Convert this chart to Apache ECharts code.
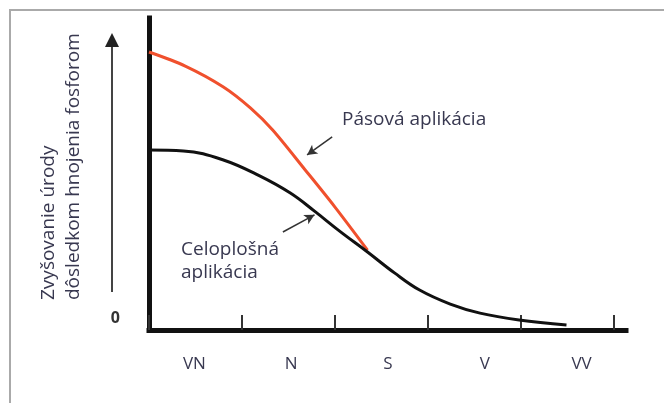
<!DOCTYPE html>
<html>
<head>
<meta charset="utf-8">
<script src="https://cdn.jsdelivr.net/npm/echarts@6/dist/echarts.min.js"></script>
<style>
  html, body { margin: 0; padding: 0; background: #fff; }
  #chart { width: 664px; height: 403px; }
</style>
</head>
<body>
<div id="chart"></div>
<script>
// kategórie na osi x
var categories = ['VN', 'N', 'S', 'V', 'VV']
var tickValues = [0, 1, 2, 3, 4, 5]

// celoplošná aplikácia (čierna krivka)
var celoplosnaX = [0, 0.37, 0.80, 1.19, 1.52, 1.78, 2.05, 2.35, 2.64, 2.91, 3.24, 3.56, 3.98, 4.49]
var celoplosnaY = [57.7, 57.4, 54.5, 49.4, 43.9, 38.1, 31.7, 25.0, 18.3, 12.8, 8.3, 5.4, 3.2, 1.6]

// pásová aplikácia (červená krivka)
var pasovaX = [0, 0.39, 0.80, 1.09, 1.33, 1.68, 2.0, 2.35]
var pasovaY = [89.1, 84.6, 77.9, 71.2, 64.1, 51.3, 39.4, 25.6]

// šípky k popisom (v súradniciach grafu)
var pasovaArrow = [[1.97, 61.9], [1.70, 56.1]]
var celoplosnaArrow = [[1.44, 31.4], [1.78, 36.9]]

var font = 'Open Sans'
var textColor = '#383850'

function pairs(xs, ys) {
  return xs.map(function (x, i) { return [x, ys[i]] })
}

function arrowLine(pts) {
  return {
    symbol: ['none', 'arrow'],
    symbolSize: [8, 10],
    silent: true,
    label: { show: false },
    lineStyle: { color: '#333', width: 1.5, type: 'solid' },
    data: [[{ coord: pts[0] }, { coord: pts[1] }]]
  }
}

var chart = echarts.init(document.getElementById('chart'))

var option = {
  animation: false,
  backgroundColor: '#fff',
  grid: [
    { left: 149, right: 38, top: 18, bottom: 73 },
    { left: 146, right: 34, top: 18, bottom: 73 }
  ],
  xAxis: [
    {
      type: 'value',
      gridIndex: 0,
      min: 0,
      max: 5.13,
      interval: 1,
      axisLine: { show: true, lineStyle: { color: '#111', width: 5, cap: 'square' } },
      axisTick: {
        show: true,
        inside: true,
        length: 15,
        customValues: tickValues,
        lineStyle: { color: '#333', width: 2 }
      },
      axisLabel: { show: false },
      splitLine: { show: false }
    },
    {
      type: 'category',
      gridIndex: 1,
      data: categories,
      axisLine: { show: false },
      axisTick: { show: false },
      axisLabel: { margin: 26, fontSize: 17, fontFamily: font, color: textColor }
    }
  ],
  yAxis: [
    {
      type: 'value',
      gridIndex: 0,
      min: 0,
      max: 100,
      interval: 100,
      axisLine: { show: true, lineStyle: { color: '#111', width: 5, cap: 'square' } },
      axisTick: { show: false },
      splitLine: { show: false },
      axisLabel: {
        formatter: function (v) { return v === 0 ? '0' : '' },
        margin: 29,
        fontSize: 16,
        fontWeight: 'bold',
        fontFamily: font,
        color: '#333',
        verticalAlign: 'bottom',
        padding: [0, 0, 4, 0]
      }
    },
    { type: 'value', gridIndex: 1, show: false }
  ],
  series: [
    {
      name: 'Pásová aplikácia',
      type: 'line',
      xAxisIndex: 0,
      yAxisIndex: 0,
      data: pairs(pasovaX, pasovaY),
      smooth: 0.3,
      showSymbol: false,
      lineStyle: { color: '#f0502d', width: 3 },
      markLine: arrowLine(pasovaArrow)
    },
    {
      name: 'Celoplošná aplikácia',
      type: 'line',
      xAxisIndex: 0,
      yAxisIndex: 0,
      data: pairs(celoplosnaX, celoplosnaY),
      smooth: 0.4,
      showSymbol: false,
      lineStyle: { color: '#111', width: 3 },
      markLine: arrowLine(celoplosnaArrow)
    }
  ],
  graphic: [
    // rámik obrázka
    {
      type: 'rect',
      shape: { x: 10, y: 10, width: 700, height: 500 },
      style: { fill: 'none', stroke: '#aaa', lineWidth: 2 },
      silent: true
    },
    // šípka hore pri osi y
    {
      type: 'line',
      shape: { x1: 112, y1: 292, x2: 112, y2: 44 },
      style: { stroke: '#444', lineWidth: 2 }
    },
    {
      type: 'polygon',
      shape: { points: [[112, 33], [105, 47], [119, 47]] },
      style: { fill: '#222' }
    },
    // názov osi y
    {
      type: 'text',
      x: 61,
      y: 300,
      rotation: Math.PI / 2,
      style: {
        text: 'Zvyšovanie úrody\ndôsledkom hnojenia fosforom',
        font: '19px "Open Sans"',
        fill: textColor,
        lineHeight: 25,
        align: 'left',
        verticalAlign: 'middle'
      }
    },
    {
      type: 'text',
      x: 342,
      y: 120,
      style: {
        text: 'Pásová aplikácia',
        font: '19px "Open Sans"',
        fill: textColor,
        align: 'left',
        verticalAlign: 'middle'
      }
    },
    {
      type: 'text',
      x: 181,
      y: 261,
      style: {
        text: 'Celoplošná\naplikácia',
        font: '19px "Open Sans"',
        fill: textColor,
        lineHeight: 23,
        align: 'left',
        verticalAlign: 'middle'
      }
    }
  ]
}

chart.setOption(option)
</script>
</body>
</html>
